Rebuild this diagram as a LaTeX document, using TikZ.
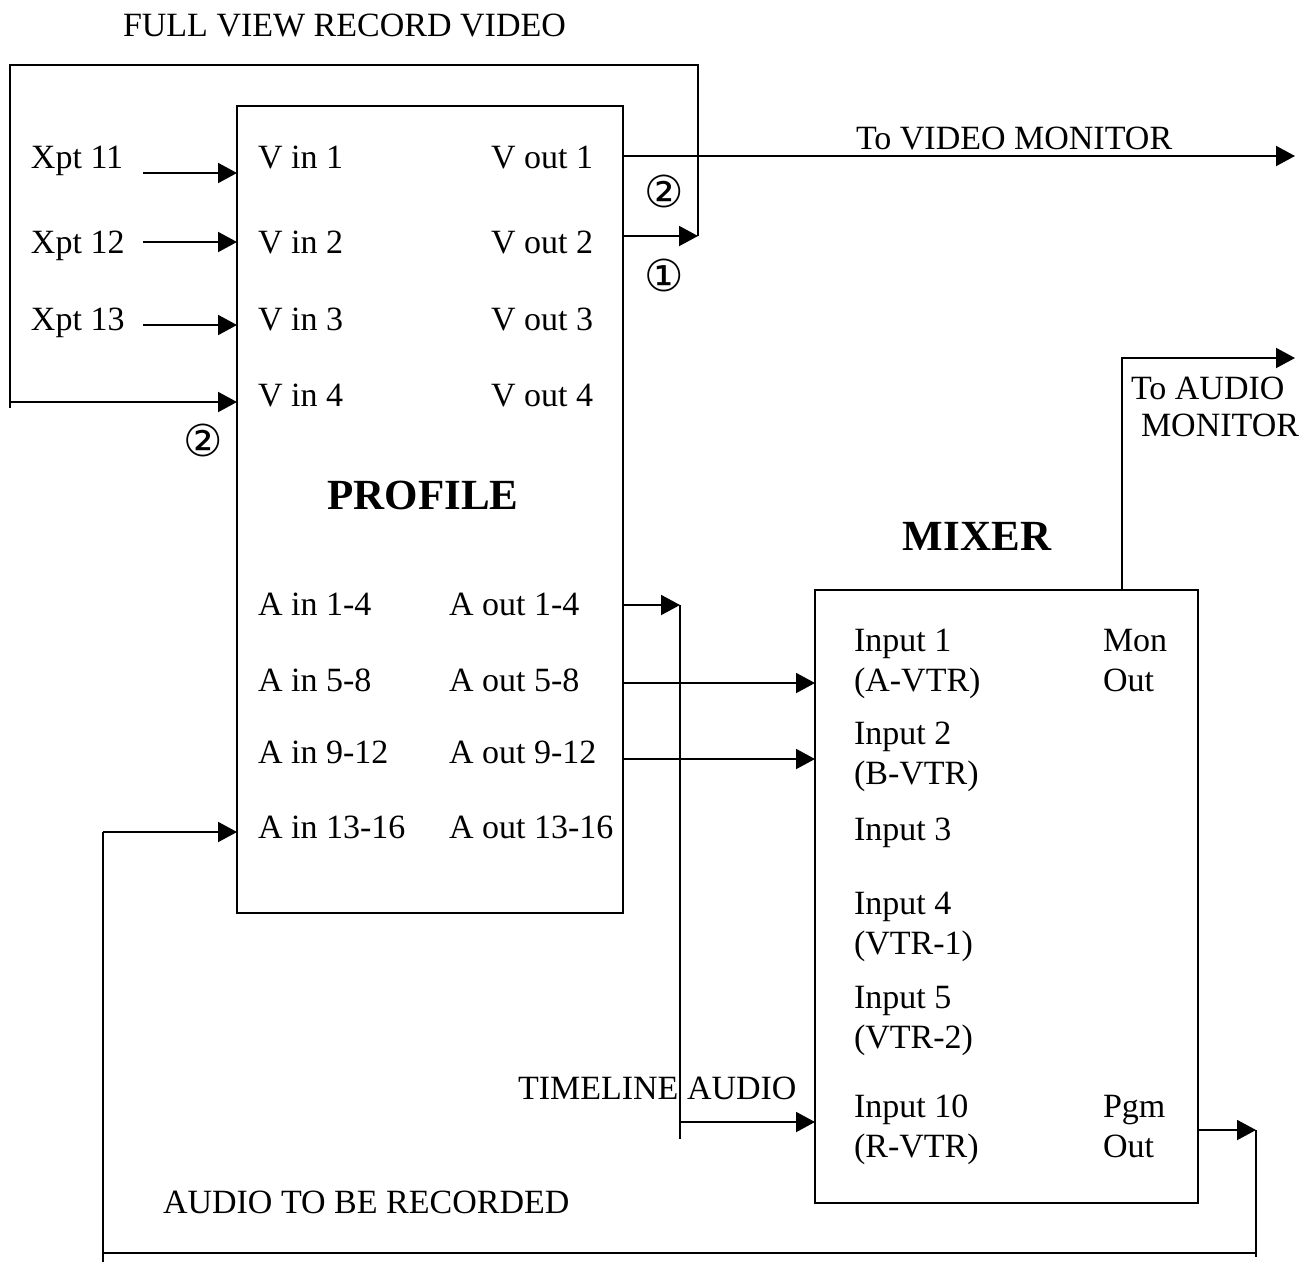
\documentclass[tikz,border=0pt]{standalone}
\usepackage{fontspec}
\setmainfont{Liberation Serif}
\newfontfamily\circfont{DejaVu Sans}
\usetikzlibrary{arrows.meta}
\begin{document}
\begin{tikzpicture}[x=0.5pt,y=-0.5pt,line width=1pt,
  arr/.style={-{Triangle[length=9.5pt,width=10pt]}},
  lbl/.style={anchor=base west,inner sep=0pt,font=\fontsize{17}{20}\selectfont},
  ttl/.style={anchor=base,inner sep=0pt,font=\fontsize{21.5}{25}\selectfont\bfseries},
  circ/.style={inner sep=0pt,font=\fontsize{22}{24}\circfont},
  box/.style={draw,inner sep=0pt,outer sep=0pt,line width=1pt}]
\useasboundingbox (0,0) rectangle (1311,1264);
% boxes
\node[box,minimum width=193pt,minimum height=403.5pt] (profile) at (430,509.5) {};
\node[box,minimum width=191.5pt,minimum height=306.5pt] (mixer) at (1006.5,896.5) {};
% titles
\node[ttl] (tprof) at (423,509) {PROFILE};
\node[ttl] (tmix) at (977,550) {MIXER};
% outer labels
\node[lbl] (tfull) at (122,36) {FULL VIEW RECORD VIDEO};
\node[lbl] (tvmon) at (855,149) {To VIDEO MONITOR};
\node[lbl] (tamon1) at (1130,399) {To AUDIO};
\node[lbl] (tamon2) at (1140,436) {MONITOR};
\node[lbl] (ttime) at (517,1099) {TIMELINE AUDIO};
\node[lbl] (trec) at (162,1213) {AUDIO TO BE RECORDED};
\node[lbl] (x11) at (30,168) {Xpt 11};
\node[lbl] (x12) at (30,253) {Xpt 12};
\node[lbl] (x13) at (30,330) {Xpt 13};
% profile labels
\node[lbl] (vi1) at (257,168) {V in 1};
\node[lbl] (vi2) at (257,253) {V in 2};
\node[lbl] (vi3) at (257,330) {V in 3};
\node[lbl] (vi4) at (257,406) {V in 4};
\node[lbl] (vo1) at (490,168) {V out 1};
\node[lbl] (vo2) at (490,253) {V out 2};
\node[lbl] (vo3) at (490,330) {V out 3};
\node[lbl] (vo4) at (490,406) {V out 4};
\node[lbl] (ai1) at (257,615) {A in 1-4};
\node[lbl] (ai2) at (257,691) {A in 5-8};
\node[lbl] (ai3) at (257,763) {A in 9-12};
\node[lbl] (ai4) at (257,838) {A in 13-16};
\node[lbl] (ao1) at (448,615) {A out 1-4};
\node[lbl] (ao2) at (448,691) {A out 5-8};
\node[lbl] (ao3) at (448,763) {A out 9-12};
\node[lbl] (ao4) at (448,838) {A out 13-16};
% mixer labels
\node[lbl] (in1) at (853,651) {Input 1};
\node[lbl] (in1b) at (853,691) {(A-VTR)};
\node[lbl] (in2) at (853,744) {Input 2};
\node[lbl] (in2b) at (853,784) {(B-VTR)};
\node[lbl] (in3) at (853,840) {Input 3};
\node[lbl] (in4) at (853,914) {Input 4};
\node[lbl] (in4b) at (853,954) {(VTR-1)};
\node[lbl] (in5) at (853,1008) {Input 5};
\node[lbl] (in5b) at (853,1048) {(VTR-2)};
\node[lbl] (in10) at (853,1117) {Input 10};
\node[lbl] (in10b) at (853,1157) {(R-VTR)};
\node[lbl] (mon) at (1102,651) {Mon};
\node[lbl] (monb) at (1102,691) {Out};
\node[lbl] (pgm) at (1102,1117) {Pgm};
\node[lbl] (pgmb) at (1102,1157) {Out};
% circled numbers
\node[circ] (c2a) at (664,191) {②};
\node[circ] (c1) at (664,275) {①};
\node[circ] (c2b) at (203,440) {②};
% coordinates
\coordinate (sx11) at (143,173);
\coordinate (sx12) at (143,242);
\coordinate (sx13) at (143,325);
\coordinate (pv1) at (623,156);
\coordinate (pv2) at (623,236);
\coordinate (vmon) at (1295,156);
\coordinate (tr) at (698,65);
\coordinate (tl) at (10,65);
\coordinate (lb) at (10,408);
\coordinate (lv4) at (10,402);
\coordinate (pa1) at (623,605);
\coordinate (pa2) at (623,683);
\coordinate (pa3) at (623,759);
\coordinate (tlx) at (680,605);
\coordinate (tlb) at (680,1139);
\coordinate (tly) at (680,1122);
\coordinate (rl) at (103,832);
\coordinate (rlb) at (103,1262);
\coordinate (rr) at (1256,1253);
\coordinate (rrt) at (1256,1130);
\coordinate (rrb) at (1256,1257);
\coordinate (pgo) at (1198,1130);
\coordinate (montop) at (1122,358);
\coordinate (amon) at (1295,358);
% connectors
\draw[arr] (sx11) -- (sx11 -| profile.west);
\draw[arr] (sx12) -- (sx12 -| profile.west);
\draw[arr] (sx13) -- (sx13 -| profile.west);
\draw[arr] (pv1) -- (vmon);
\draw[arr] (pv2) -- (pv2 -| tr);
\draw (pv2 -| tr) -- (tr) -- (tl) -- (lb);
\draw[arr] (lv4) -- (lv4 -| profile.west);
\draw[arr] (pa1) -- (tlx);
\draw (tlx) -- (tlb);
\draw[arr] (tly) -- (tly -| mixer.west);
\draw[arr] (pa2) -- (pa2 -| mixer.west);
\draw[arr] (pa3) -- (pa3 -| mixer.west);
\draw[arr] (rl) -- (rl -| profile.west);
\draw (rl) -- (rlb);
\draw (rr -| rl) -- (rr);
\draw (rrt) -- (rrb);
\draw[arr] (pgo) -- (rrt);
\draw[arr] (montop |- mixer.north) -- (montop) -- (amon);
\end{tikzpicture}
\end{document}
